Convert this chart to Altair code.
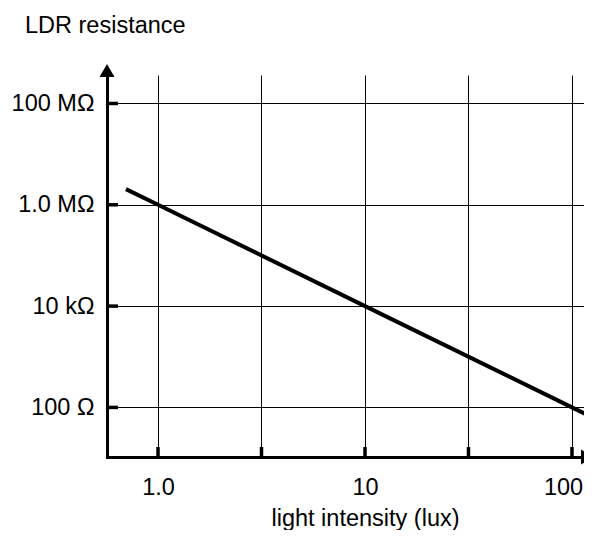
import altair as alt
import pandas as pd

# data
lux = [0.7, 1.0, 10.0, 100.0, 125.0]
resistance = [2.04e6, 1.0e6, 1.0e4, 100.0, 64.0]

x_grid_values = [1.0, 3.162, 10.0, 31.62, 100.0]
x_tick_labels = ["1.0", "", "10", "", "100"]
y_grid_values = [100.0, 1.0e4, 1.0e6, 1.0e8]
y_tick_labels = ["100 Ω", "10 kΩ", "1.0 MΩ", "100 MΩ"]

x_domain = [0.567, 114.3]
y_domain = [10.5, 3.65e8]

FONT = "Liberation Sans, Arial, Helvetica, sans-serif"
FS = 23.5
W, H = 477, 382

df_line = pd.DataFrame({"lux": lux, "R": resistance})
df_xt = pd.DataFrame({"lux": x_grid_values})
df_yt = pd.DataFrame({"R": y_grid_values})
df_one = pd.DataFrame({"a": [0]})


def js_list(vals, quote=False):
    if quote:
        return "[" + ",".join("'" + v + "'" for v in vals) + "]"
    return "[" + ",".join(repr(v) for v in vals) + "]"


x_label_expr = f"{js_list(x_tick_labels, True)}[indexof({js_list(x_grid_values)}, datum.value)]"
y_label_expr = f"{js_list(y_tick_labels, True)}[indexof({js_list(y_grid_values)}, datum.value)]"

x_axis = alt.Axis(
    values=x_grid_values, labelExpr=x_label_expr, grid=True, gridColor="#000000",
    gridWidth=1, gridOpacity=1, ticks=False, domain=True, domainColor="#000000",
    domainWidth=3, domainCap="square", labelFont=FONT, labelFontSize=FS,
    labelColor="#000000", labelPadding=18, labelFlush=False, labelOverlap=False,
    labelOffset={"condition": {"test": "datum.value == 100", "value": -9}, "value": 0},
    title="light intensity (lux)", titleFont=FONT, titleFontSize=FS,
    titleFontWeight="normal", titleColor="#000000", titleX=258, titleY=68,
    titleAlign="center", titleBaseline="alphabetic",
)
y_axis = alt.Axis(
    values=y_grid_values, labelExpr=y_label_expr, grid=True, gridColor="#000000",
    gridWidth=1, gridOpacity=1, ticks=False, domain=True, domainColor="#000000",
    domainWidth=3, domainCap="square", labelFont=FONT, labelFontSize=FS,
    labelColor="#000000", labelPadding=13, labelOverlap=False,
    title="LDR resistance", titleFont=FONT, titleFontSize=FS,
    titleFontWeight="normal", titleColor="#000000", titleAngle=0,
    titleX=-82.5, titleY=-43, titleAlign="left", titleBaseline="alphabetic",
)

x_scale = alt.Scale(type="log", domain=x_domain, nice=False)
y_scale = alt.Scale(type="log", domain=y_domain, nice=False)

x_enc = alt.X("lux:Q", scale=x_scale, axis=x_axis)
y_enc = alt.Y("R:Q", scale=y_scale, axis=y_axis)

line = alt.Chart(df_line).mark_line(color="#000000", strokeWidth=4, clip=True).encode(
    x=x_enc, y=y_enc
)

x_ticks = alt.Chart(df_xt).mark_rule(color="#000000", strokeWidth=3.5).encode(
    x=x_enc, y=alt.value(H - 10), y2=alt.value(H)
)
y_ticks = alt.Chart(df_yt).mark_rule(color="#000000", strokeWidth=3.5).encode(
    y=y_enc, x=alt.value(0), x2=alt.value(11)
)

y_arrow = alt.Chart(df_one).mark_point(
    shape="triangle-up", filled=True, size=225, color="#000000", opacity=1
).encode(x=alt.value(0), y=alt.value(-4.5))
x_arrow = alt.Chart(df_one).mark_point(
    shape="triangle-right", filled=True, size=225, color="#000000", opacity=1
).encode(x=alt.value(W + 3.5), y=alt.value(H))

chart = alt.layer(line, x_ticks, y_ticks, y_arrow, x_arrow).properties(
    width=W, height=H,
    autosize=alt.AutoSizeParams(type="none"),
    padding={"left": 99, "top": 67, "right": 0, "bottom": 73},
    background="#ffffff",
).configure_view(stroke=None)

chart.save("out.html", embed_options={"renderer": "svg", "actions": False})
